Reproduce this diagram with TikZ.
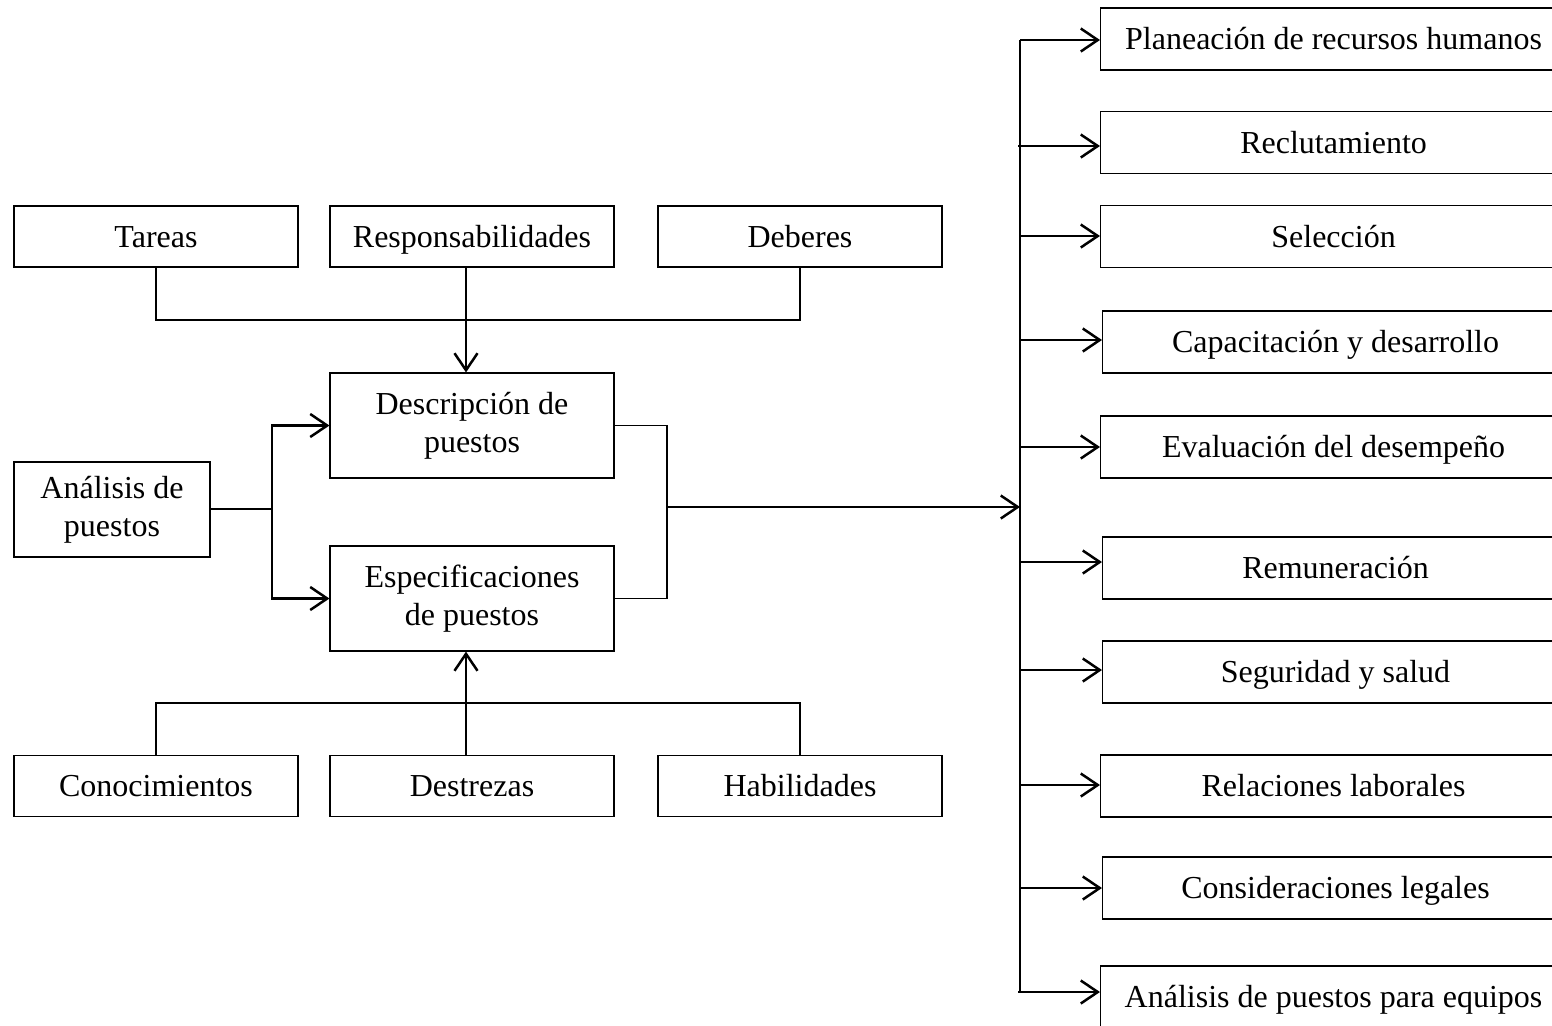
\documentclass[tikz,border=0pt]{standalone}
\usepackage{fontspec}
\setmainfont{Liberation Serif}
\usetikzlibrary{arrows.meta,calc}
\begin{document}
\begin{tikzpicture}[x=0.5pt,y=-0.5pt,
  box/.style={draw, line width=0.55pt, inner sep=0pt, align=center,
    font=\fontsize{16}{19}\selectfont},
  sbox/.style={box, minimum width=142pt, minimum height=30.5pt, text height=12.5pt, text depth=2pt},
  mbox/.style={box, minimum width=142pt, minimum height=52.5pt},
  rbox/.style={box, minimum width=233pt, minimum height=31pt, anchor=west, text height=12.5pt, text depth=2pt},
  thin/.style={line width=0.55pt},
  arr/.style={line width=1.25pt, -{Straight Barb[length=8.5pt,width=11.5pt,line width=1.25pt]}},
  thick/.style={line width=1.25pt}]
\clip (0,0) rectangle (1552,1025);
% top row
\node[sbox] (tareas) at (156,236.5) {Tareas};
\node[sbox] (resp) at (472,236.5) {Responsabilidades};
\node[sbox] (deberes) at (800,236.5) {Deberes};
% middle
\node[mbox] (desc) at (472,425.5) {Descripción de\\puestos};
\node[mbox] (espec) at (472,598.5) {Especificaciones\\de puestos};
\node[box, minimum width=98pt, minimum height=47.5pt] (anal) at (112,509.5) {Análisis de\\puestos};
% bottom row
\node[sbox] (conoc) at (156,786) {Conocimientos};
\node[sbox] (destr) at (472,786) {Destrezas};
\node[sbox] (habil) at (800,786) {Habilidades};
% top bracket
\coordinate (tj) at (466,320);
\draw[thin] (tareas.south) |- (tj) -| (deberes.south);
\draw[arr] (resp.south -| tj) -- (desc.north -| tj);
% bottom bracket
\coordinate (bj) at (466,703);
\draw[thin] (conoc.north) |- (bj) -| (habil.north);
\draw[arr] (destr.north -| bj) -- (espec.south -| bj);
% left split
\coordinate (lj) at (272,509);
\draw[thin] (anal.east |- lj) -- (lj);
\draw[arr] (lj) |- (desc.west);
\draw[arr] (lj) |- (espec.west);
% right merge
\coordinate (rj) at (667,507);
\draw[thin] (desc.east) -| (rj) |- (espec.east);
\coordinate (bus) at (1020,507);
\draw[arr] (rj) -- (bus);
% right column
\node[rbox] (r1) at (1100,39) {Planeación de recursos humanos};
\node[rbox] (r2) at (1100,142.5) {Reclutamiento};
\node[rbox] (r3) at (1100,236.5) {Selección};
\node[rbox] (r4) at (1102,342) {Capacitación y desarrollo};
\node[rbox] (r5) at (1100,447) {Evaluación del desempeño};
\node[rbox] (r6) at (1102,568) {Remuneración};
\node[rbox] (r7) at (1102,672) {Seguridad y salud};
\node[rbox] (r8) at (1100,786) {Relaciones laborales};
\node[rbox] (r9) at (1102,888) {Consideraciones legales};
\node[rbox] (r10) at (1100,997) {Análisis de puestos para equipos};
\coordinate (busT) at (1020,40);
\coordinate (busB) at (1020,992);
\draw[thin] (busT) -- (busB);
\draw[arr] (1020,40) -- (r1.west |- 0,40);
\draw[arr] (1018,146) -- (r2.west |- 0,146);
\draw[arr] (1020,236) -- (r3.west |- 0,236);
\draw[arr] (1020,340) -- (r4.west |- 0,340);
\draw[arr] (1020,447) -- (r5.west |- 0,447);
\draw[arr] (1020,562) -- (r6.west |- 0,562);
\draw[arr] (1020,670) -- (r7.west |- 0,670);
\draw[arr] (1020,785) -- (r8.west |- 0,785);
\draw[arr] (1020,888) -- (r9.west |- 0,888);
\draw[arr] (1018,992) -- (r10.west |- 0,992);
\end{tikzpicture}
\end{document}
